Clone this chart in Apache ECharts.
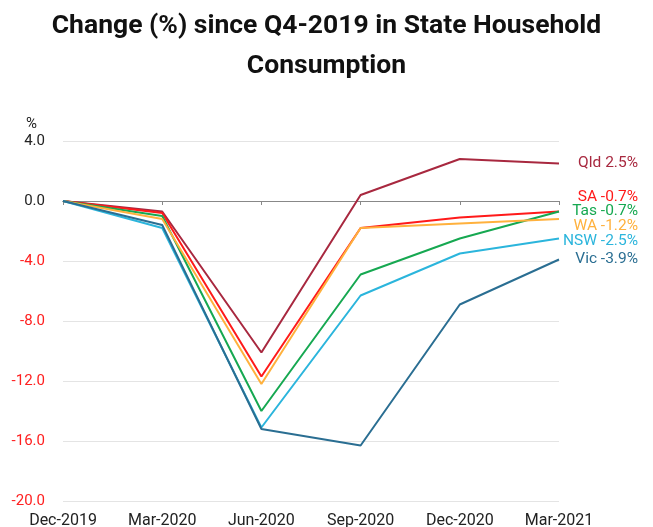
<!DOCTYPE html>
<html><head><meta charset="utf-8">
<script src="https://cdn.jsdelivr.net/npm/echarts@6/dist/echarts.min.js"></script>
<style>html,body{margin:0;padding:0;background:#fff}#c{width:653px;height:527px}</style>
</head><body><div id="c"></div>
<script>
const categories = ['Dec-2019','Mar-2020','Jun-2020','Sep-2020','Dec-2020','Mar-2021'];
const qld = [0, -0.7, -10.1, 0.4, 2.8, 2.5];
const sa  = [0, -0.8, -11.7, -1.8, -1.1, -0.7];
const wa  = [0, -1.2, -12.2, -1.8, -1.5, -1.2];
const tas = [0, -1.0, -14.0, -4.9, -2.5, -0.7];
const nsw = [0, -1.8, -15.1, -6.3, -3.5, -2.5];
const vic = [0, -1.6, -15.2, -16.3, -6.9, -3.9];
const yTicks = {min: -20, max: 4, interval: 4};

const chart = echarts.init(document.getElementById('c'));
function mk(name, data, color, dy) {
  return {
    name, type: 'line', data, xAxisIndex: 0, yAxisIndex: 0,
    showSymbol: false, symbol: 'none',
    lineStyle: {color, width: 2}, itemStyle: {color},
    endLabel: {
      show: true, color, fontSize: 15.5, fontFamily: 'Roboto',
      align: 'right', distance: 0, offset: [79, dy],
      formatter: () => name + ' ' + data[data.length-1].toFixed(1) + '%'
    }
  };
}
chart.setOption({
  animation: false,
  title: {
    text: 'Change (%) since Q4-2019 in State Household\nConsumption',
    left: 'center', top: 1,
    textStyle: {fontFamily: 'Roboto', fontSize: 26.5, fontWeight: 'bold', color: '#111', lineHeight: 40}
  },
  grid: {left: 63, right: 94, top: 141, bottom: 26, containLabel: false, outerBoundsMode: 'none'},
  xAxis: [
    {type: 'category', data: categories, boundaryGap: false, position: 'bottom',
     axisLine: {show: false, onZero: false}, axisTick: {show: false}, splitLine: {show: false},
     axisLabel: {color: '#222', fontSize: 16, fontFamily: 'Roboto', margin: 12}},
    {type: 'category', data: categories, boundaryGap: false, position: 'bottom',
     axisLine: {show: true, onZero: true, onZeroAxisIndex: 0, lineStyle: {color: '#888', width: 1.2}},
     axisTick: {show: true, length: 4, lineStyle: {color: '#888'}},
     axisLabel: {show: false}, splitLine: {show: false}}
  ],
  yAxis: {
    type: 'value', min: yTicks.min, max: yTicks.max, interval: yTicks.interval,
    name: '%', nameLocation: 'end', nameGap: 9,
    nameTextStyle: {color: '#222', fontSize: 15, fontFamily: 'Roboto', align: 'right', padding: [0, 26, 0, 0]},
    axisLine: {show: false}, axisTick: {show: false},
    splitLine: {lineStyle: {color: '#e4e4e4', width: 1}},
    axisLabel: {
      fontSize: 15, fontFamily: 'Roboto', margin: 18, color: '#222',
      formatter: v => v < 0 ? '{n|' + v.toFixed(1) + '}' : v.toFixed(1),
      rich: {n: {color: '#ff2020', fontSize: 15, fontFamily: 'Roboto'}}
    }
  },
  series: [
    mk('Qld', qld, '#a8283f', 0),
    mk('SA', sa, '#ff1a1a', -14),
    mk('Tas', tas, '#16a851', 0),
    mk('WA', wa, '#ffb13d', 7),
    mk('NSW', nsw, '#2bb5dc', 3),
    mk('Vic', vic, '#2a6e92', 0)
  ]
});
</script></body></html>
